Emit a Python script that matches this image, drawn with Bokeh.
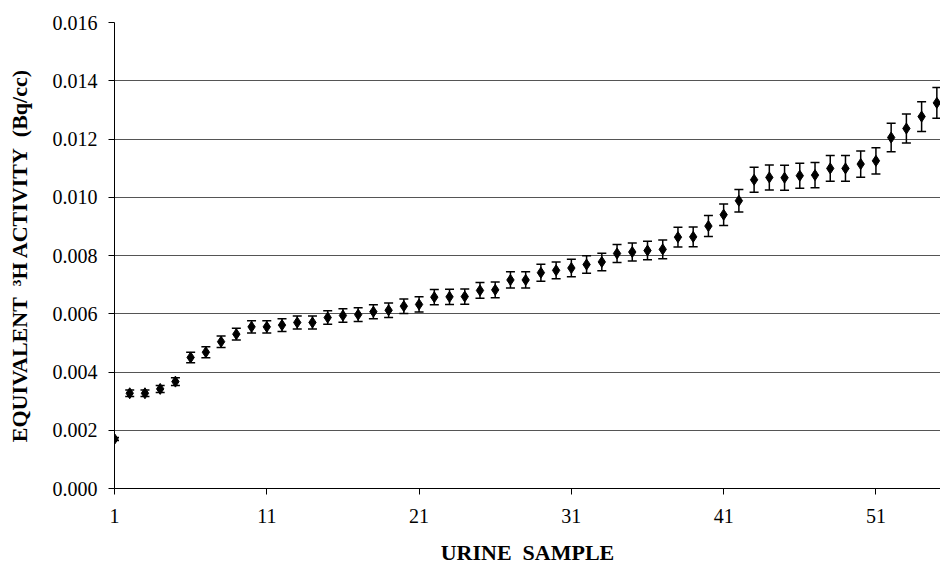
from bokeh.plotting import figure
from bokeh.models import (ColumnDataSource, Whisker, TeeHead, Range1d, FixedTicker,
                          NumeralTickFormatter)
from bokeh.embed import file_html
from bokeh.resources import INLINE

samples = list(range(1, 56))
activity = [0.0017, 0.00327, 0.00327, 0.00342, 0.00367, 0.0045, 0.00468, 0.00504, 0.0053,
            0.00555, 0.00555, 0.00561, 0.0057, 0.0057, 0.00587, 0.00594, 0.00597, 0.00607,
            0.00612, 0.00626, 0.00632, 0.00657, 0.00658, 0.00659, 0.0068, 0.00682, 0.00716,
            0.00716, 0.00741, 0.00749, 0.00757, 0.00769, 0.00778, 0.00807, 0.00812, 0.00817,
            0.00821, 0.00863, 0.00864, 0.00901, 0.0094, 0.00988, 0.0106, 0.01068, 0.01067,
            0.01074, 0.01076, 0.01099, 0.01099, 0.01114, 0.01125, 0.01205, 0.01236, 0.01277,
            0.01324]
error = [0.00005, 0.00011, 0.00011, 0.00012, 0.00013, 0.00018, 0.00019, 0.0002, 0.0002,
         0.00021, 0.00021, 0.00022, 0.00022, 0.00022, 0.00023, 0.00023, 0.00024, 0.00024,
         0.00025, 0.00025, 0.00026, 0.00026, 0.00026, 0.00026, 0.00027, 0.00027, 0.00028,
         0.00028, 0.00029, 0.00029, 0.0003, 0.0003, 0.0003, 0.00031, 0.00031, 0.00032,
         0.00032, 0.00034, 0.00034, 0.00036, 0.00037, 0.00039, 0.00043, 0.00043, 0.00043,
         0.00043, 0.00043, 0.00044, 0.00044, 0.00045, 0.00045, 0.00049, 0.0005, 0.00051,
         0.00053]
x_ticks = [1, 11, 21, 31, 41, 51]
y_ticks = [0.000, 0.002, 0.004, 0.006, 0.008, 0.010, 0.012, 0.014, 0.016]

src = ColumnDataSource(dict(
    x=samples, y=activity,
    lower=[a - e for a, e in zip(activity, error)],
    upper=[a + e for a, e in zip(activity, error)],
))

FONT = "Liberation Serif"
NB = "\u00a0"

p = figure(width=940, height=567, output_backend="svg", toolbar_location=None,
           x_range=Range1d(1, 55.24), y_range=Range1d(0, 0.016),
           min_border_left=114, min_border_right=0, min_border_top=22, min_border_bottom=77)
p.outline_line_color = None
p.background_fill_color = "white"
p.border_fill_color = "white"

p.xgrid.grid_line_color = None
p.ygrid.grid_line_color = "#555555"
p.ygrid.grid_line_width = 1
p.ygrid.ticker = FixedTicker(ticks=y_ticks)

p.xaxis.ticker = FixedTicker(ticks=x_ticks)
p.yaxis.ticker = FixedTicker(ticks=y_ticks)
p.yaxis.formatter = NumeralTickFormatter(format="0.000")

for ax in (p.xaxis, p.yaxis):
    ax.axis_line_color = "black"
    ax.axis_line_width = 1
    ax.major_tick_line_color = "black"
    ax.major_tick_out = 6
    ax.major_tick_in = 0
    ax.minor_tick_line_color = None
    ax.major_label_text_font = FONT
    ax.major_label_text_font_size = "20px"
    ax.major_label_text_color = "black"
    ax.axis_label_text_font = FONT
    ax.axis_label_text_font_style = "bold"
    ax.axis_label_text_color = "black"

p.xaxis.axis_label = "URINE" + NB + NB + "SAMPLE"
p.xaxis.axis_label_text_font_size = "22px"
p.xaxis.major_label_standoff = 14
p.xaxis.axis_label_standoff = 14
p.yaxis.axis_label = "EQUIVALENT" + NB + NB + "\u00b3H ACTIVITY" + NB + NB + "(Bq/cc)"
p.yaxis.axis_label_text_font_size = "22px"
p.yaxis.major_label_standoff = 11
p.yaxis.axis_label_standoff = 18

whisk = Whisker(source=src, base="x", lower="lower", upper="upper",
                line_color="black", line_width=1.5,
                upper_head=TeeHead(size=9, line_color="black", line_width=1.5),
                lower_head=TeeHead(size=9, line_color="black", line_width=1.5))
p.add_layout(whisk)

p.scatter("x", "y", source=src, marker="diamond", size=11,
          fill_color="black", line_color="black")

open("out.html", "w").write(file_html(p, INLINE))
